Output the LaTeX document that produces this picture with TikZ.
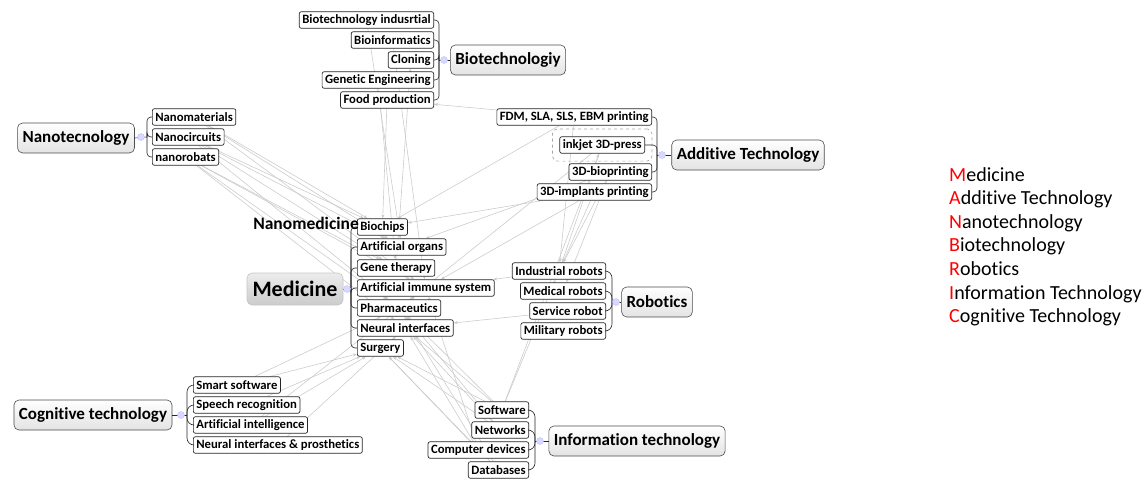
\documentclass[tikz,border=0pt]{standalone}
\usepackage{fontspec}
\setmainfont{Carlito}[Ligatures={NoCommon}]
\usetikzlibrary{positioning,arrows.meta,fit,backgrounds}

\begin{document}
\begin{tikzpicture}[x=1pt,y=-1pt,
	topic/.style={draw=gray!60!black, line width=.6pt, rounded corners=5pt, top color=white, bottom color=gray!22, font=\fontsize{17}{20}\selectfont\bfseries, inner xsep=5pt, minimum height=30pt},
	leaf/.style={draw=gray!30!black, line width=.7pt, rounded corners=2pt, fill=white, font=\fontsize{12.7}{14}\selectfont\bfseries, inner xsep=3pt, inner ysep=0pt, minimum height=16.5pt},
	branch/.style={draw=gray!30!black, line width=.6pt, rounded corners=4pt},
	hubdot/.style={circle, fill=blue!15, draw=blue!25, inner sep=0pt, minimum size=7pt},
	link/.style={draw=gray!40, line width=.6pt, -{Stealth[length=4pt,width=3pt,fill=gray!70]}}]
	\useasboundingbox (0,0) rectangle (1145,480);
	
	%%% BIOTECHNOLOGY
	\node[topic] (bio) at (508,60) {Biotechnologiy};
	\node[leaf, anchor=east] (b1) at (434,20) {Biotechnology indusrtial};
	\node[leaf, anchor=east] (b2) at (434,40) {Bioinformatics};
	\node[leaf, anchor=east] (b3) at (434,60) {Cloning};
	\node[leaf, anchor=east] (b4) at (434,80) {Genetic Engineering};
	\node[leaf, anchor=east] (b5) at (434,100) {Food production};
	\coordinate (bihub) at (439,60);
	\foreach \s in {b1,b2,b3,b4,b5} \draw[branch] (\s.east) -| (bihub);
	\draw[branch] (bihub) -- (bio.west);
	\node[hubdot] at (444,60) {};
	
	%%% NANOTECHNOLOGY
	\node[topic] (nano) at (76,138) {Nanotecnology};
	\node[leaf, anchor=west] (n1) at (152,117) {Nanomaterials};
	\node[leaf, anchor=west] (n2) at (152,137) {Nanocircuits};
	\node[leaf, anchor=west] (n3) at (152,157) {nanorobats};
	\coordinate (nahub) at (147,137);
	\foreach \s in {n1,n2,n3} \draw[branch] (\s.west) -| (nahub);
	\draw[branch] (nahub) -- (nano.east);
	\node[hubdot] at (141,137) {};
	
	%%% ADDITIVE TECHNOLOGY
	\node[topic] (add) at (748,155) {Additive Technology};
	\node[leaf, anchor=east] (a1) at (652,117) {FDM, SLA, SLS, EBM printing};
	\node[leaf, anchor=east] (a2) at (645,145) {inkjet 3D-press};
	\node[leaf, anchor=east] (a3) at (652,172) {3D-bioprinting};
	\node[leaf, anchor=east] (a4) at (652,192) {3D-implants printing};
	\node[draw=gray!70, dashed, line width=.7pt, rounded corners=5pt, inner xsep=7pt, inner ysep=7.5pt, fit=(a2)] (press) {};
	\coordinate (adhub) at (657,155);
	\foreach \s in {a1,a2,a3,a4} \draw[branch] (\s.east) -| (adhub);
	\draw[branch] (adhub) -- (add.west);
	\node[hubdot] at (662,155) {};
	
	%%% MEDICINE
	\node[topic, draw=gray!45, top color=gray!15, bottom color=gray!40, font=\fontsize{22}{24}\selectfont\bfseries, minimum width=96pt, minimum height=32pt] (med) at (295,289) {Medicine};
	\node[leaf, anchor=west] (m1) at (357,227) {Biochips};
	\node[leaf, anchor=west] (m2) at (357,247) {Artificial organs};
	\node[leaf, anchor=west] (m3) at (357,268) {Gene therapy};
	\node[leaf, anchor=west] (m4) at (357,288) {Artificial immune system};
	\node[leaf, anchor=west] (m5) at (357,308) {Pharmaceutics};
	\node[leaf, anchor=west] (m6) at (357,328) {Neural interfaces};
	\node[leaf, anchor=west] (m7) at (357,348) {Surgery};
	\node[anchor=east, font=\fontsize{17.5}{20}\selectfont\bfseries, inner sep=0pt] (nmed) at (359,223) {Nanomedicine};
	\coordinate (mehub) at (351,289);
	\foreach \s in {m1,m2,m3,m4,m5,m6,m7} \draw[branch] (\s.west) -| (mehub);
	\draw[branch] (mehub) -- (med.east);
	\node[hubdot] at (347,289) {};
	
	%%% ROBOTICS
	\node[topic] (rob) at (657,302) {Robotics};
	\node[leaf, anchor=east] (r1) at (606,271) {Industrial robots};
	\node[leaf, anchor=east] (r2) at (606,291) {Medical robots};
	\node[leaf, anchor=east] (r3) at (606,311) {Service robot};
	\node[leaf, anchor=east] (r4) at (606,331) {Military robots};
	\coordinate (rohub) at (612,302);
	\foreach \s in {r1,r2,r3,r4} \draw[branch, rounded corners=7pt] (\s.east) -| (rohub);
	\draw[branch] (rohub) -- (rob.west);
	\node[hubdot] at (616,302) {};
	
	%%% COGNITIVE TECHNOLOGY
	\node[topic] (cog) at (93,415) {Cognitive technology};
	\node[leaf, anchor=west] (c1) at (193,385) {Smart software};
	\node[leaf, anchor=west] (c2) at (193,405) {Speech recognition};
	\node[leaf, anchor=west] (c3) at (193,425) {Artificial intelligence};
	\node[leaf, anchor=west] (c4) at (193,445) {Neural interfaces \& prosthetics};
	\coordinate (cohub) at (187,415);
	\foreach \s in {c1,c2,c3,c4} \draw[branch, rounded corners=7pt] (\s.west) -| (cohub);
	\draw[branch] (cohub) -- (cog.east);
	\node[hubdot] at (181,415) {};
	
	%%% INFORMATION TECHNOLOGY
	\node[topic] (info) at (637,441) {Information technology};
	\node[leaf, anchor=east] (i1) at (529,410) {Software};
	\node[leaf, anchor=east] (i2) at (529,430) {Networks};
	\node[leaf, anchor=east] (i3) at (529,450) {Computer devices};
	\node[leaf, anchor=east] (i4) at (529,470) {Databases};
	\coordinate (ithub) at (535,441);
	\foreach \s in {i1,i2,i3,i4} \draw[branch, rounded corners=7pt] (\s.east) -| (ithub);
	\draw[branch] (ithub) -- (info.west);
	\node[hubdot] at (540,441) {};
	
	%%% CROSS LINKS
	\begin{scope}[on background layer]
		\foreach \a/\b in {n1/m1,n1/m2,n1/m4,n2/m1,n2/m3,n2/m5,n2/m2,n3/m4,n3/m5,n3/m3,n3/m6,
			b1/m2,b4/m3,b5/m1,b2/m4,m3/b3,
			a1/b5,a4/m1,a3/m2,a2/m5,a4/m4,a1/r1,a2/r1,a3/r1,a4/r1,a3/r2,a1/m1,
			r1/m4,r3/m6,
			c1/m7,c2/m7,c3/m7,c4/m6,c1/m5,c3/m4,
			i1/m7,i1/m6,i2/m5,i2/m7,i3/m6,i3/m4,i2/m6,i3/m7,i4/m5,i1/r1,i1/a2,i4/m7,i1/m5}
		\draw[link] (\a) -- (\b);
	\end{scope}
	
	%%% LEGEND
	\node[anchor=north west, align=left, inner sep=0pt, font=\fontsize{20}{23.6}\selectfont] (legend) at (949,167)
	{\textcolor{red}{M}edicine\\ \textcolor{red}{A}dditive Technology\\ \textcolor{red}{N}anotechnology\\ \textcolor{red}{B}iotechnology\\ \textcolor{red}{R}obotics\\ \textcolor{red}{I}nformation Technology\\ \textcolor{red}{C}ognitive Technology};
\end{tikzpicture}
\end{document}
